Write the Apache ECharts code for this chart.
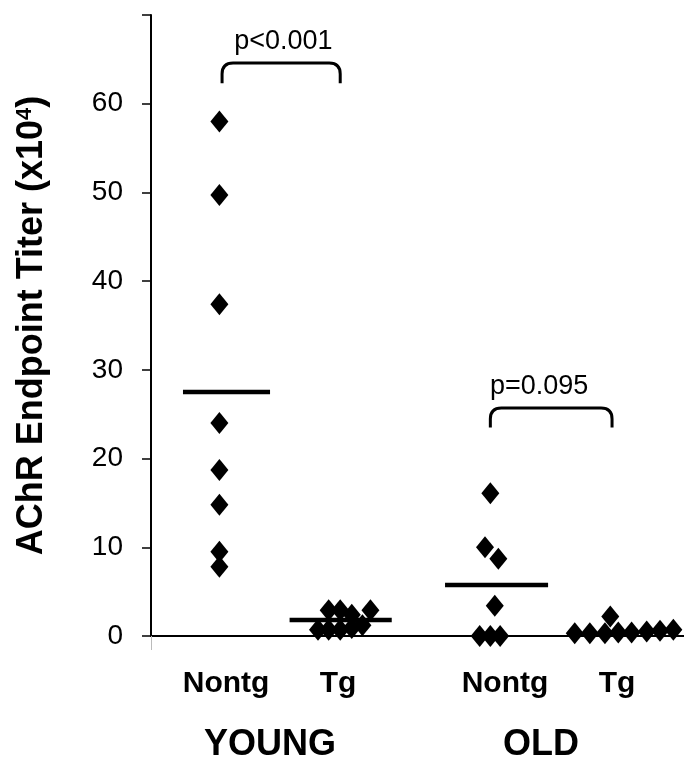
<!DOCTYPE html>
<html>
<head>
<meta charset="utf-8">
<script src="https://cdn.jsdelivr.net/npm/echarts@6/dist/echarts.min.js"></script>
<style>html,body{margin:0;padding:0;background:#fff;}#c{width:684px;height:769px;}</style>
</head>
<body>
<div id="c"></div>
<script>
// ---- data ----
var youngNontgX = [0.77, 0.77, 0.77, 0.77, 0.77, 0.77, 0.77, 0.77];
var youngNontgY = [58.0, 49.7, 37.4, 24.0, 18.7, 14.8, 9.5, 7.8];
var youngTgX = [1.88, 2.00, 2.13, 2.26, 2.38, 2.00, 2.13, 2.26, 2.47];
var youngTgY = [0.7, 0.7, 0.7, 0.9, 1.2, 2.9, 2.9, 2.4, 2.9];
var oldNontgX = [3.82, 3.76, 3.91, 3.87, 3.70, 3.82, 3.93];
var oldNontgY = [16.1, 10.0, 8.7, 3.4, 0, 0, 0];
var oldTgX = [4.77, 4.94, 5.11, 5.26, 5.41, 5.58, 5.73, 5.88, 5.17];
var oldTgY = [0.3, 0.3, 0.3, 0.4, 0.4, 0.5, 0.6, 0.7, 2.2];
// mean bars: [xStart, xEnd, mean]
var meanStart = [0.36, 1.56, 3.31];
var meanEnd = [1.34, 2.71, 4.47];
var meanValue = [27.5, 1.8, 5.75];
// significance brackets
var bracketX1 = [0.80, 3.82];
var bracketX2 = [2.13, 5.19];
var bracketTop = [64.6, 25.7];
var bracketBottom = [62.3, 23.5];
var pLabels = ['p<0.001', 'p=0.095'];
var pLabelX = [1.49, 4.37];
var pLabelY = [67.0, 28.1];
// axis labels
var groupNames = ['Nontg', 'Tg', 'Nontg', 'Tg'];
var groupPos = [0.845, 2.105, 3.985, 5.246];
var ageNames = ['YOUNG', 'OLD'];
var agePos = [1.34, 4.39];
var yTicks = [0, 10, 20, 30, 40, 50, 60, 70];
var yTitle = 'AChR Endpoint Titer (x10';

function pts(xs, ys) { return xs.map(function (x, i) { return [x, ys[i]]; }); }

var chart = echarts.init(document.getElementById('c'));
var FONT = '"Liberation Sans", Arial, Helvetica, sans-serif';

var diamond = {
  type: 'scatter', symbol: 'diamond', symbolSize: [18, 22], clip: false,
  itemStyle: { color: '#000', opacity: 1 }, z: 3
};

chart.setOption({
  animation: false,
  backgroundColor: '#fff',
  textStyle: { fontFamily: FONT },
  grid: { left: 151, right: 0, top: 15, bottom: 133, containLabel: false },
  xAxis: [{
    type: 'value', min: 0, max: 6, position: 'bottom',
    axisLine: { onZero: false, lineStyle: { color: '#000', width: 2 } },
    splitLine: { show: false },
    axisTick: { show: true, customValues: [0], length: 14, inside: false, lineStyle: { color: '#bbb', width: 1 } },
    axisLabel: {
      customValues: groupPos, margin: 33,
      formatter: function (v) { var i = groupPos.indexOf(v); return i >= 0 ? groupNames[i] : ''; },
      color: '#000', fontSize: 30, fontWeight: 'bold', fontFamily: FONT
    }
  }, {
    type: 'value', min: 0, max: 6, position: 'bottom',
    axisLine: { show: false }, splitLine: { show: false }, axisTick: { show: false },
    axisLabel: {
      customValues: agePos, margin: 91,
      formatter: function (v) { var i = agePos.indexOf(v); return i >= 0 ? ageNames[i] : ''; },
      color: '#000', fontSize: 36, fontWeight: 'bold', fontFamily: FONT
    }
  }],
  yAxis: {
    type: 'value', min: 0, max: 70, interval: 10,
    axisLine: { show: true, onZero: false, lineStyle: { color: '#000', width: 2 } },
    axisTick: { show: true, length: 9, lineStyle: { color: '#000', width: 1.5 } },
    splitLine: { show: false },
    axisLabel: {
      margin: 28, color: '#000', fontSize: 28, fontFamily: FONT,
      formatter: function (v) { return v === 70 ? '' : String(v); }
    },
    name: '{a|' + yTitle + '}{s|4}{a|)}',
    nameLocation: 'middle', nameGap: 101, nameRotate: 90,
    nameTextStyle: {
      rich: {
        a: { fontSize: 36, fontWeight: 'bold', color: '#000', fontFamily: FONT },
        s: { fontSize: 22, fontWeight: 'bold', color: '#000', fontFamily: FONT, verticalAlign: 'top', padding: [0, 0, 14, 0] }
      }
    }
  },
  series: [
    Object.assign({ name: 'Young Nontg', data: pts(youngNontgX, youngNontgY) }, diamond),
    Object.assign({ name: 'Young Tg', data: pts(youngTgX, youngTgY) }, diamond),
    Object.assign({ name: 'Old Nontg', data: pts(oldNontgX, oldNontgY) }, diamond),
    Object.assign({ name: 'Old Tg', data: pts(oldTgX, oldTgY) }, diamond),
    {
      type: 'custom', name: 'means', clip: false, z: 2,
      data: meanStart.map(function (s, i) { return [s, meanEnd[i], meanValue[i]]; }),
      renderItem: function (params, api) {
        var a = api.coord([api.value(0), api.value(2)]);
        var b = api.coord([api.value(1), api.value(2)]);
        return { type: 'line', shape: { x1: a[0], y1: a[1], x2: b[0], y2: b[1] },
          style: { stroke: '#000', lineWidth: 4.5 } };
      }
    },
    {
      type: 'custom', name: 'brackets', clip: false, z: 2,
      data: bracketX1.map(function (x, i) { return [x, bracketX2[i], bracketTop[i], bracketBottom[i]]; }),
      renderItem: function (params, api) {
        var p1 = api.coord([api.value(0), api.value(3)]);
        var p2 = api.coord([api.value(0), api.value(2)]);
        var p3 = api.coord([api.value(1), api.value(2)]);
        var p4 = api.coord([api.value(1), api.value(3)]);
        var r = 11;
        var d = 'M' + p1[0] + ',' + p1[1] +
          ' L' + p2[0] + ',' + (p2[1] + r) +
          ' Q' + p2[0] + ',' + p2[1] + ' ' + (p2[0] + r) + ',' + p2[1] +
          ' L' + (p3[0] - r) + ',' + p3[1] +
          ' Q' + p3[0] + ',' + p3[1] + ' ' + p3[0] + ',' + (p3[1] + r) +
          ' L' + p4[0] + ',' + p4[1];
        return { type: 'path', shape: { pathData: d },
          style: { stroke: '#000', fill: null, lineWidth: 3 } };
      }
    },
    {
      type: 'custom', name: 'pvalues', clip: false, z: 2,
      data: pLabelX.map(function (x, i) { return [x, pLabelY[i], i]; }),
      renderItem: function (params, api) {
        var p = api.coord([api.value(0), api.value(1)]);
        return { type: 'text', x: p[0], y: p[1],
          style: { text: pLabels[api.value(2)], fill: '#000', fontSize: 27, fontFamily: FONT,
            align: 'center', verticalAlign: 'middle' } };
      }
    }
  ]
});
</script>
</body>
</html>
